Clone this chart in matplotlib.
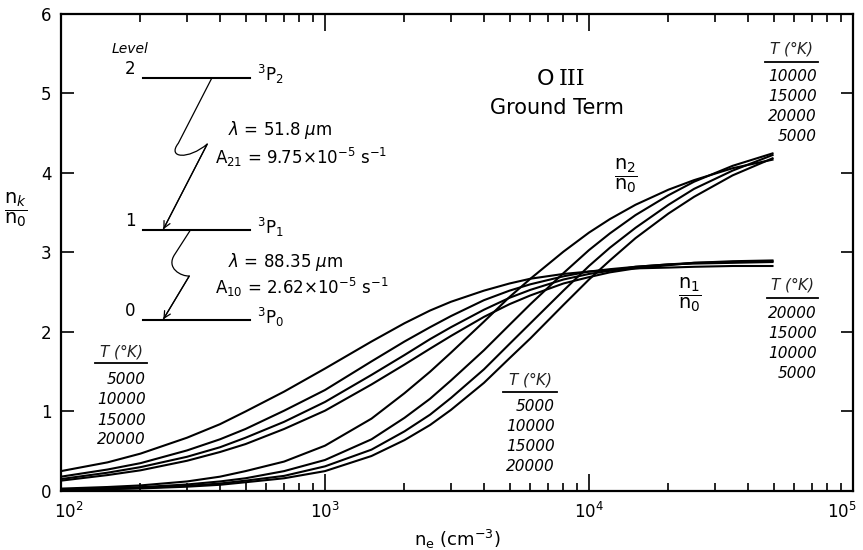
import matplotlib
matplotlib.use("Agg")
import matplotlib.pyplot as plt
from matplotlib.path import Path
from matplotlib.patches import PathPatch
from matplotlib.transforms import ScaledTranslation

plt.rcParams['font.family'] = 'DejaVu Sans'
plt.rcParams['mathtext.fontset'] = 'dejavusans'

# electron density (cm^-3) at which the curves were read
ne = [100, 150, 200, 300, 400, 500, 700, 1000, 1500, 2000, 2500, 3000, 4000,
      5000, 6000, 8000, 10000, 12000, 15000, 20000, 25000, 35000, 50000]

# n1/n0 for T = 5000, 10000, 15000, 20000 K
n1_5000 = [0.25, 0.36, 0.47, 0.67, 0.84, 1.00, 1.25, 1.54, 1.88, 2.11, 2.27, 2.38, 2.52,
           2.61, 2.67, 2.73, 2.76, 2.78, 2.80, 2.81, 2.82, 2.83, 2.83]
n1_10000 = [0.18, 0.27, 0.35, 0.51, 0.65, 0.78, 1.01, 1.27, 1.63, 1.88, 2.06, 2.20, 2.40,
            2.52, 2.60, 2.70, 2.76, 2.79, 2.82, 2.85, 2.86, 2.87, 2.88]
n1_15000 = [0.15, 0.23, 0.30, 0.43, 0.55, 0.67, 0.87, 1.12, 1.46, 1.71, 1.91, 2.06, 2.28,
            2.43, 2.53, 2.66, 2.73, 2.77, 2.82, 2.85, 2.87, 2.88, 2.89]
n1_20000 = [0.13, 0.20, 0.26, 0.38, 0.49, 0.59, 0.78, 1.01, 1.34, 1.59, 1.79, 1.95, 2.19,
            2.35, 2.46, 2.61, 2.69, 2.75, 2.80, 2.84, 2.87, 2.89, 2.90]

# n2/n0 for the same temperatures
n2_5000 = [0.03, 0.05, 0.07, 0.12, 0.18, 0.25, 0.37, 0.57, 0.91, 1.23, 1.50, 1.74, 2.13,
           2.44, 2.67, 3.01, 3.25, 3.42, 3.60, 3.79, 3.91, 4.06, 4.17]
n2_10000 = [0.02, 0.034, 0.048, 0.082, 0.12, 0.16, 0.25, 0.39, 0.65, 0.92, 1.16, 1.39, 1.77,
            2.09, 2.35, 2.74, 3.03, 3.24, 3.47, 3.72, 3.89, 4.09, 4.25]
n2_15000 = [0.016, 0.027, 0.038, 0.064, 0.094, 0.13, 0.19, 0.31, 0.52, 0.75, 0.96, 1.17, 1.53,
            1.85, 2.11, 2.52, 2.83, 3.06, 3.31, 3.60, 3.80, 4.03, 4.23]
n2_20000 = [0.014, 0.023, 0.032, 0.054, 0.078, 0.11, 0.16, 0.25, 0.44, 0.64, 0.83, 1.02, 1.36,
            1.67, 1.92, 2.34, 2.66, 2.90, 3.18, 3.49, 3.70, 3.97, 4.19]

fig = plt.figure(figsize=(8.63, 5.5), dpi=100)
ax = fig.add_axes([0.0707, 0.1073, 0.9177, 0.8673])

for curve in [n1_5000, n1_10000, n1_15000, n1_20000,
              n2_5000, n2_10000, n2_15000, n2_20000]:
    ax.plot(ne, curve, color='black', lw=1.5, solid_capstyle='butt')

ax.set_xscale('log')
ax.set_xlim(1e2, 1e5)
ax.set_ylim(0, 6)
ax.set_xticks([1e2, 1e3, 1e4, 1e5])
ax.set_yticks([0, 1, 2, 3, 4, 5, 6])
for s in ax.spines.values():
    s.set_linewidth(1.6)
ax.tick_params(which='both', direction='in', top=True, right=True, width=1.2)
ax.tick_params(axis='x', which='major', length=12, labelsize=12, pad=8)
ax.tick_params(axis='x', which='minor', length=6)
ax.tick_params(axis='y', which='major', length=9, labelsize=12, pad=7)

# keep the end labels inside the figure like the original
xt = ax.xaxis.get_major_ticks()
xt[0].label1.set_transform(xt[0].label1.get_transform() + ScaledTranslation(0.08, 0, fig.dpi_scale_trans))
xt[-1].label1.set_horizontalalignment('right')
xt[-1].label1.set_transform(xt[-1].label1.get_transform() + ScaledTranslation(0.04, 0, fig.dpi_scale_trans))

ax.set_xlabel(r'n$_\mathrm{e}$ (cm$^{-3}$)', fontsize=13, labelpad=4)
ax.text(-0.057, 0.589, r'$\dfrac{\mathrm{n}_k}{\mathrm{n}_0}$', transform=ax.transAxes,
        fontsize=14, ha='center', va='center')

tr = ax.transAxes

# energy-level diagram
ax.text(0.087, 0.927, 'Level', transform=tr, fontsize=10, style='italic', ha='center', va='center')
lev_y = [0.8665, 0.5472, 0.3585]
for lab, y in zip(['2', '1', '0'], lev_y):
    ax.plot([0.1035, 0.2386], [y, y], color='black', lw=1.5, transform=tr)
    ax.text(0.094, y, lab, transform=tr, fontsize=12, ha='right', va='bottom')
    ax.text(0.2475, y - 0.008, r'$^3\mathrm{P}_%s$' % lab, transform=tr,
            fontsize=12, ha='left', va='baseline')

def px(x, y):
    return ((x - 61) / 792.0, (491 - y) / 477.0)

squig1 = [px(211.7, 78.3), px(178.3, 143.3), px(166.7, 158.3), px(188.3, 160), px(207.3, 144), px(163.3, 229.3)]
squig2 = [px(190, 230.7), px(175, 254), px(165, 268.3), px(181.7, 276.7), px(189.3, 276), px(163.3, 319.3)]
codes = [Path.MOVETO, Path.LINETO, Path.CURVE4, Path.CURVE4, Path.CURVE4, Path.LINETO]
for sq in [squig1, squig2]:
    ax.add_patch(PathPatch(Path(sq, codes), fill=False, lw=0.9, edgecolor='black', transform=tr))
    ax.annotate('', xy=sq[5], xytext=sq[4], xycoords=tr, textcoords=tr,
                arrowprops=dict(arrowstyle='->', lw=0.9, color='black', shrinkA=0, shrinkB=0,
                                mutation_scale=12))

ax.text(0.211, 0.757, r'$\lambda$ = 51.8 $\mu$m', transform=tr, fontsize=12, ha='left', va='center')
ax.text(0.194, 0.700, r'A$_{21}$ = 9.75$\times$10$^{-5}$ s$^{-1}$', transform=tr,
        fontsize=12, ha='left', va='center')
ax.text(0.211, 0.480, r'$\lambda$ = 88.35 $\mu$m', transform=tr, fontsize=12, ha='left', va='center')
ax.text(0.194, 0.426, r'A$_{10}$ = 2.62$\times$10$^{-5}$ s$^{-1}$', transform=tr,
        fontsize=12, ha='left', va='center')

# ion label
ax.text(0.612, 0.864, 'O', transform=tr, fontsize=16, ha='center', va='center')
ax.text(0.645, 0.864, 'III', transform=tr, fontsize=16, family='DejaVu Serif', ha='center', va='center')
ax.text(0.6263, 0.803, 'Ground Term', transform=tr, fontsize=15, ha='center', va='center')

# curve family labels
ax.text(0.7134, 0.660, r'$\dfrac{\mathrm{n}_2}{\mathrm{n}_0}$', transform=tr, fontsize=14, ha='center', va='center')
ax.text(0.7942, 0.411, r'$\dfrac{\mathrm{n}_1}{\mathrm{n}_0}$', transform=tr, fontsize=14, ha='center', va='center')

def temp_block(xr, x0, x1, ytitle, yline, ys, labels):
    ax.text((x0 + x1) / 2, ytitle, r'$T$ ($\degree$K)', transform=tr, fontsize=11,
            style='italic', ha='center', va='center', color='#222222')
    ax.plot([x0, x1], [yline, yline], color='black', lw=1.3, transform=tr)
    for y, lab in zip(ys, labels):
        ax.text(xr, y, lab, transform=tr, fontsize=11, style='italic', ha='right', va='center')

temp_block(0.9545, 0.8889, 0.9558, 0.927, 0.8994, [0.869, 0.827, 0.785, 0.743],
           ['10000', '15000', '20000', '5000'])
temp_block(0.9545, 0.8914, 0.9558, 0.432, 0.4052, [0.3721, 0.3302, 0.2883, 0.2463],
           ['20000', '15000', '10000', '5000'])
temp_block(0.6237, 0.5581, 0.6263, 0.234, 0.2082, [0.1771, 0.1352, 0.0933, 0.0514],
           ['5000', '10000', '15000', '20000'])
temp_block(0.1073, 0.0429, 0.1086, 0.2925, 0.2683, [0.2327, 0.1908, 0.1488, 0.1069],
           ['5000', '10000', '15000', '20000'])

fig.savefig('out.png', dpi=100)
